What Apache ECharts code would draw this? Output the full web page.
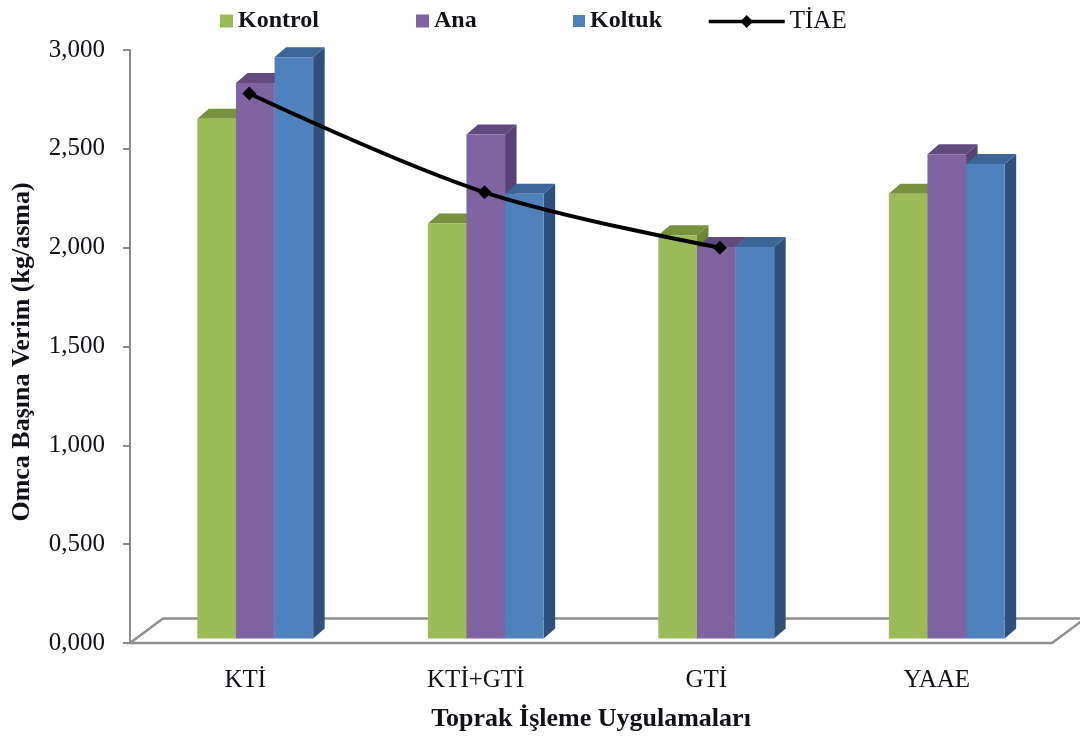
<!DOCTYPE html>
<html>
<head>
<meta charset="utf-8">
<script src="https://cdn.jsdelivr.net/npm/echarts@6/dist/echarts.min.js"></script>
<style>
  html, body { margin: 0; padding: 0; background: #ffffff; }
  #chart { width: 1080px; height: 738px; }
</style>
</head>
<body>
<div id="chart"></div>
<script>
// Yield per vine (kg/vine) for each tillage practice
const categories = ['KTİ', 'KTİ+GTİ', 'GTİ', 'YAAE'];
const kontrol = [2.63, 2.10, 2.04, 2.25];
const ana     = [2.81, 2.55, 1.98, 2.45];
const koltuk  = [2.94, 2.25, 1.98, 2.40];
const tiae    = [2.78, 2.28, 2.00];
const yTickLabels = ['0,000', '0,500', '1,000', '1,500', '2,000', '2,500', '3,000'];

const FONT = 'Liberation Serif, Times New Roman, serif';
const TEXT = '#111118';

// Plot-area layout (front edge of the floor)
const GRID = { left: 130, right: 28, top: 50, bottom: 95 };
const W = 1080, H = 738;

// Pseudo-3D column geometry
const BAR_FRAC = 0.1675;   // column width as a share of the category band
const GROUP_SHIFT = 10;    // columns sit a little behind/right of the front edge
const LIFT = 4.5;
const DX = 11.5, DY = -10; // depth offset of top and side faces

const FACES = {
  Kontrol: { front: '#9BBB59', top: '#76923C', side: '#6B8834' },
  Ana:     { front: '#8064A2', top: '#614A7E', side: '#574274' },
  Koltuk:  { front: '#4F81BD', top: '#3C6698', side: '#30507B' }
};

function columnRenderer(slot, faces) {
  return function (params, api) {
    const c = api.value(0);
    const v = api.value(1);
    const base = api.coord([c, 0]);
    const top = api.coord([c, v]);
    const band = api.size([1, 0])[0];
    const w = band * BAR_FRAC;
    const x0 = base[0] + GROUP_SHIFT - 1.5 * w + slot * w;
    const x1 = x0 + w;
    const yb = base[1] - LIFT;
    const yt = top[1] - LIFT;
    return {
      type: 'group',
      children: [
        { type: 'polygon', shape: { points: [[x1, yb], [x1 + DX, yb + DY], [x1 + DX, yt + DY], [x1, yt]] },
          style: { fill: faces.side } },
        { type: 'polygon', shape: { points: [[x0, yt], [x0 + DX, yt + DY], [x1 + DX, yt + DY], [x1, yt]] },
          style: { fill: faces.top } },
        { type: 'rect', shape: { x: x0, y: yt, width: w, height: yb - yt },
          style: { fill: faces.front } }
      ]
    };
  };
}

function columnSeries(name, values, slot) {
  return {
    name: name,
    type: 'custom',
    xAxisIndex: 0,
    yAxisIndex: 0,
    z: 3,
    itemStyle: { color: FACES[name].front },
    renderItem: columnRenderer(slot, FACES[name]),
    encode: { x: 0, y: 1 },
    data: values.map(function (v, i) { return [i, v]; })
  };
}

// Floor of the 3D plot: parallelogram behind the columns
const fx0 = GRID.left, fx1 = W - GRID.right, fy = H - GRID.bottom;
const FDX = 33, FDY = -24.5;

const legendText = { fontFamily: FONT, fontSize: 24, fontWeight: 'bold', color: TEXT };
const LEGEND_TOP = 4;

const option = {
  backgroundColor: '#ffffff',
  animation: false,
  grid: [
    { left: GRID.left, right: GRID.right, top: GRID.top, bottom: GRID.bottom },
    { left: 131.7, right: 7.3, top: GRID.top, bottom: GRID.bottom }
  ],
  legend: [
    { data: ['Kontrol'], left: 215, top: LEGEND_TOP, icon: 'rect', itemWidth: 13, itemHeight: 13, itemGap: 0, textStyle: legendText },
    { data: ['Ana'], left: 411, top: LEGEND_TOP, icon: 'rect', itemWidth: 13, itemHeight: 13, itemGap: 0, textStyle: legendText },
    { data: ['Koltuk'], left: 568, top: LEGEND_TOP, icon: 'rect', itemWidth: 12, itemHeight: 12, itemGap: 0, textStyle: legendText },
    { data: ['TİAE'], left: 702, top: LEGEND_TOP, itemWidth: 76, itemHeight: 16, itemGap: 0,
      lineStyle: { color: '#000000', width: 3.5 },
      itemStyle: { color: '#000000' },
      textStyle: { fontFamily: FONT, fontSize: 25, color: TEXT } }
  ],
  xAxis: [
    {
      type: 'category', gridIndex: 0, data: categories, boundaryGap: true,
      axisLine: { show: false }, axisTick: { show: false },
      axisLabel: { margin: 25, fontFamily: FONT, fontSize: 25, color: TEXT }
    },
    {
      type: 'category', gridIndex: 1, data: categories, boundaryGap: true, show: false
    }
  ],
  yAxis: [
    {
      type: 'value', gridIndex: 0, min: 0, max: 3, interval: 0.5,
      splitLine: { show: false },
      axisLine: { show: true, lineStyle: { color: '#8a8a8a', width: 2 } },
      axisTick: { show: true, inside: false, length: 7, lineStyle: { color: '#8a8a8a', width: 2 } },
      axisLabel: {
        margin: 25, fontFamily: FONT, fontSize: 25, color: TEXT,
        formatter: function (v) { return yTickLabels[Math.round(v / 0.5)]; }
      }
    },
    { type: 'value', gridIndex: 1, min: 0, max: 3, interval: 0.5, show: false }
  ],
  graphic: [
    {
      type: 'polygon', z: 1,
      shape: { points: [[fx0, fy], [fx0 + FDX, fy + FDY], [fx1 + FDX, fy + FDY], [fx1, fy]] },
      style: { fill: '#ffffff', stroke: '#8f8f8f', lineWidth: 2.5 }
    },
    {
      type: 'text', x: 22, y: 352, rotation: Math.PI / 2, z: 5,
      style: { text: 'Omca Başına Verim (kg/asma)', fontFamily: FONT, fontSize: 26, fontWeight: 'bold',
               fill: TEXT, align: 'center', verticalAlign: 'middle' }
    },
    {
      type: 'text', x: 591, y: 719, z: 5,
      style: { text: 'Toprak İşleme Uygulamaları', fontFamily: FONT, fontSize: 26, fontWeight: 'bold',
               fill: TEXT, align: 'center', verticalAlign: 'middle' }
    }
  ],
  series: [
    columnSeries('Kontrol', kontrol, 0),
    columnSeries('Ana', ana, 1),
    columnSeries('Koltuk', koltuk, 2),
    {
      name: 'TİAE',
      type: 'line',
      xAxisIndex: 1,
      yAxisIndex: 1,
      z: 10,
      smooth: 0.35,
      symbol: 'diamond',
      symbolSize: 14,
      itemStyle: { color: '#000000' },
      lineStyle: { color: '#000000', width: 4 },
      data: tiae
    }
  ]
};

const chart = echarts.init(document.getElementById('chart'), null, { renderer: 'canvas' });
chart.setOption(option);
</script>
</body>
</html>
